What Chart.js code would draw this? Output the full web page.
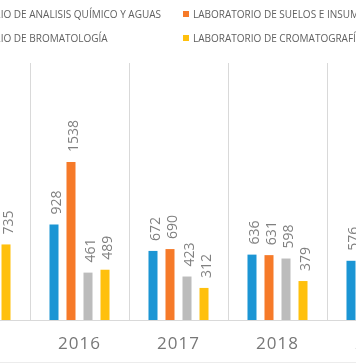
<!DOCTYPE html>
<html>
<head>
<meta charset="utf-8">
<script src="https://cdn.jsdelivr.net/npm/chart.js@4/dist/chart.umd.min.js"></script>
<style>
  html, body { margin: 0; padding: 0; width: 356px; height: 364px; overflow: hidden; background: #fff; position: relative; }
  #wrap { position: absolute; left: -69px; top: 0; width: 495px; height: 364px; }
  .col { position: absolute; top: 0; font-family: "Open Sans", sans-serif; font-size: 10px; color: #606060; white-space: nowrap; }
  .row { position: absolute; height: 14px; line-height: 14px; display: flex; align-items: center; white-space: nowrap; }
  .sq { display: inline-block; width: 6px; height: 6px; margin-right: 4px; }
  #bottomline { position: absolute; left: 0; top: 362px; width: 356px; height: 0; border-top: 1px solid #ececec; }
</style>
</head>
<body>
<div id="wrap"><canvas id="c"></canvas></div>
<div id="legend"></div>
<div id="bottomline"></div>
<script>
const categories = ['2015', '2016', '2017', '2018', '2019'];
const seriesNames = [
  'LABORATORIO DE ANALISIS QUÍMICO Y AGUAS',
  'LABORATORIO DE SUELOS E INSUMOS',
  'LABORATORIO DE BROMATOLOGÍA',
  'LABORATORIO DE CROMATOGRAFÍA'
];
const seriesColors = ['#1b95d4', '#f67a29', '#bcbcbc', '#ffc00d'];
const analisisAguas = [null, 928, 672, 636, 576];
const suelosInsumos = [null, 1538, 690, 631, null];
const bromatologia  = [null, 461, 423, 598, null];
const cromatografia = [735, 489, 312, 379, null];
const seriesValues = [analisisAguas, suelosInsumos, bromatologia, cromatografia];
const valueMin = 0;
const valueMax = 2500;

// HTML legend laid out in two columns like the original
(function buildLegend() {
  const legend = document.getElementById('legend');
  const measure = document.createElement('canvas').getContext('2d');
  measure.font = '10px "Open Sans"';
  const w1 = Math.max(measure.measureText(seriesNames[0]).width, measure.measureText(seriesNames[2]).width);
  const col1Left = 161 - w1 - 10;
  const cols = [[0, 2, col1Left], [1, 3, 183]];
  cols.forEach(([a, b, left]) => {
    [a, b].forEach((idx, r) => {
      const row = document.createElement('div');
      row.className = 'row col';
      row.style.left = left + 'px';
      row.style.top = (r === 0 ? 7 : 31) + 'px';
      const sq = document.createElement('span');
      sq.className = 'sq';
      sq.style.background = seriesColors[idx];
      const t = document.createElement('span');
      t.textContent = seriesNames[idx];
      row.appendChild(sq);
      row.appendChild(t);
      legend.appendChild(row);
    });
  });
})();

const spacing = {
  id: 'spacing',
  beforeDraw(chart) { chart.ctx.letterSpacing = '1px'; },
  beforeDatasetsDraw(chart) { chart.ctx.letterSpacing = '0px'; }
};

const valueLabels = {
  id: 'valueLabels',
  afterDatasetsDraw(chart) {
    const ctx = chart.ctx;
    ctx.save();
    ctx.letterSpacing = '0px';
    ctx.font = '14px "Open Sans"';
    ctx.fillStyle = '#808080';
    ctx.textAlign = 'left';
    ctx.textBaseline = 'alphabetic';
    chart.data.datasets.forEach((ds, di) => {
      const meta = chart.getDatasetMeta(di);
      meta.data.forEach((el, i) => {
        const v = ds.data[i];
        if (v === null || v === undefined) return;
        ctx.save();
        ctx.translate(el.x, el.y - 10);
        ctx.rotate(-Math.PI / 2);
        ctx.fillText(String(v), 0, 6.8);
        ctx.restore();
      });
    });
    ctx.restore();
  }
};

new Chart(document.getElementById('c'), {
  type: 'bar',
  data: {
    labels: categories,
    datasets: seriesValues.map((vals, i) => ({
      label: seriesNames[i],
      data: vals,
      backgroundColor: seriesColors[i],
      borderWidth: 0,
      barPercentage: 0.53,
      categoryPercentage: 0.687
    }))
  },
  options: {
    responsive: true,
    maintainAspectRatio: false,
    animation: false,
    layout: { padding: { top: 63, left: 0, right: 0, bottom: 0 } },
    plugins: { legend: { display: false }, tooltip: { enabled: false } },
    scales: {
      x: {
        offset: true,
        grid: { color: '#d9d9d9', drawTicks: false, offset: true, lineWidth: 1 },
        border: { color: '#d9d9d9' },
        ticks: { font: { family: 'Open Sans', size: 17 }, color: '#777777', padding: 14 },
        afterFit(scale) { scale.height = 44; }
      },
      y: { display: false, min: valueMin, max: valueMax }
    }
  },
  plugins: [spacing, valueLabels]
});
</script>
</body>
</html>
